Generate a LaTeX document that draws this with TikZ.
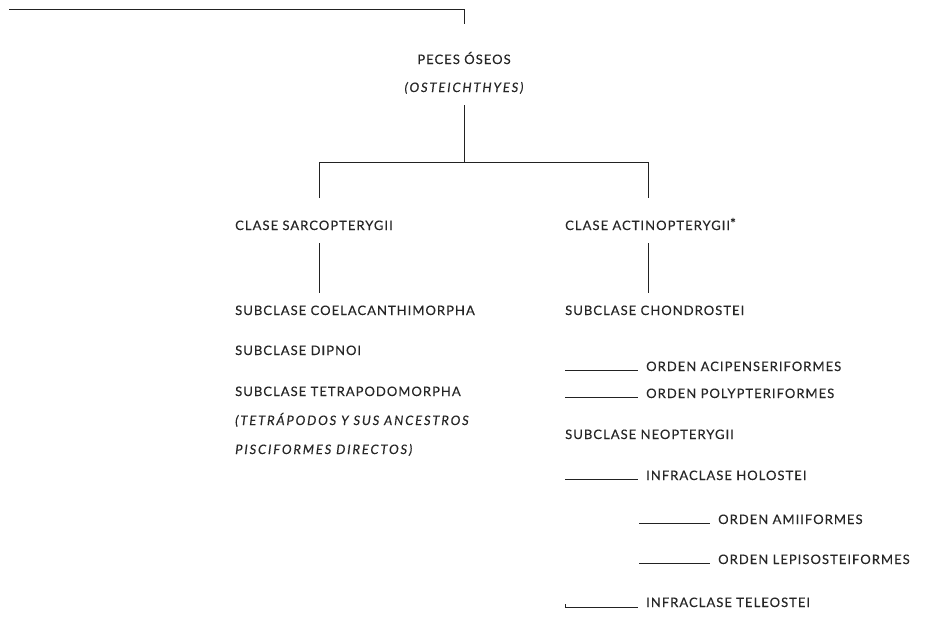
\documentclass[tikz,border=0pt]{standalone}
\usepackage{fontspec}
\newfontfamily\labfont[LetterSpace=8,FakeBold=0.3]{Lato}
\newfontfamily\itlfont[LetterSpace=14,FakeBold=0.3]{Lato}
\definecolor{txt}{HTML}{262626}
\definecolor{ln}{HTML}{222222}
\begin{document}
\begin{tikzpicture}[x=1pt,y=-1pt,
  lab/.style={anchor=base west, inner sep=0pt, font=\labfont\fontsize{13}{15}\selectfont, text=txt},
  labc/.style={lab, anchor=base},
  itl/.style={font=\itlfont\fontsize{13}{15}\selectfont\itshape},
  conn/.style={draw=ln, line width=0.8pt}]
\path[use as bounding box] (0,0) rectangle (929,616);
% nodes
\node[labc] (peces) at (464,64) {PECES ÓSEOS};
\node[labc,itl] (ostei) at (464,92) {(OSTEICHTHYES)};
\node[lab] (sarco) at (235,230) {CLASE SARCOPTERYGII};
\node[lab] (actino) at (565,230) {CLASE ACTINOPTERYGII\raisebox{1.5pt}{\fontsize{14}{14}\selectfont *}};
\node[lab] (coela) at (235,315) {SUBCLASE COELACANTHIMORPHA};
\node[lab] (dipnoi) at (235,355) {SUBCLASE DIPNOI};
\node[lab] (tetra) at (235,396) {SUBCLASE TETRAPODOMORPHA};
\node[lab,itl] (tetra2) at (235,425) {(TETRÁPODOS Y SUS ANCESTROS};
\node[lab,itl] (tetra3) at (235,454) {PISCIFORMES DIRECTOS)};
\node[lab] (chond) at (565,315) {SUBCLASE CHONDROSTEI};
\node[lab] (acip) at (646,371) {ORDEN ACIPENSERIFORMES};
\node[lab] (poly) at (646,398) {ORDEN POLYPTERIFORMES};
\node[lab] (neop) at (565,439) {SUBCLASE NEOPTERYGII};
\node[lab] (holo) at (646,480) {INFRACLASE HOLOSTEI};
\node[lab] (amii) at (718,524) {ORDEN AMIIFORMES};
\node[lab] (lepi) at (718,564) {ORDEN LEPISOSTEIFORMES};
\node[lab] (tele) at (646,607) {INFRACLASE TELEOSTEI};
% coordinates
\coordinate (t0) at (9,9);
\coordinate (t1) at (464,9);
\coordinate (t2) at (464,24);
\coordinate (m0) at (464,105);
\coordinate (m1) at (464,162);
\coordinate (hl) at (319,162);
\coordinate (hr) at (648,162);
\coordinate (vl) at (319,198);
\coordinate (vr) at (648,198);
\coordinate (sl0) at (319,243);
\coordinate (sl1) at (319,293);
\coordinate (sr0) at (648,243);
\coordinate (sr1) at (648,293);
\coordinate (a0) at (565,370);
\coordinate (p0) at (565,397);
\coordinate (h0) at (565,479);
\coordinate (am0) at (639,523);
\coordinate (le0) at (639,563);
\coordinate (te0) at (565,607);
% connectors
\draw[conn] (t0) -- (t1) -- (t2);
\draw[conn] (m0) -- (m1);
\draw[conn] (vl) -- (hl) -- (hr) -- (vr);
\draw[conn] (sl0) -- (sl1);
\draw[conn] (sr0) -- (sr1);
\draw[conn] (a0) -- ([xshift=-8pt]acip.west |- a0);
\draw[conn] (p0) -- ([xshift=-8pt]poly.west |- p0);
\draw[conn] (h0) -- ([xshift=-8pt]holo.west |- h0);
\draw[conn] (am0) -- ([xshift=-8pt]amii.west |- am0);
\draw[conn] (le0) -- ([xshift=-8pt]lepi.west |- le0);
\draw[conn] ([yshift=3pt]te0) -- (te0) -- ([xshift=-8pt]tele.west |- te0);
\end{tikzpicture}
\end{document}
